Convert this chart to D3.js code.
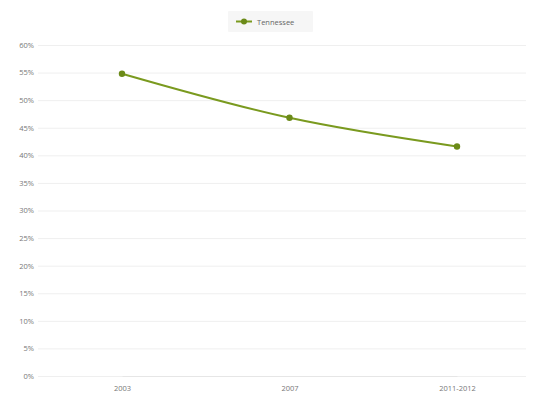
<!DOCTYPE html>
<html><head><meta charset="utf-8">
<script src="https://cdn.jsdelivr.net/npm/d3@7"></script>
<style>body{margin:0;background:#fff;} text{font-family:"Open Sans",sans-serif;}</style>
</head><body>
<svg id="c" width="534" height="394"></svg>
<script>
const categories = ["2003", "2007", "2011-2012"];
const seriesName = "Tennessee";
const values = [54.8, 46.8, 41.6];
const yTicks = [0,5,10,15,20,25,30,35,40,45,50,55,60];

const svg = d3.select("#c");
const color = "#7a9a1f";
const x = d3.scalePoint().domain(categories).range([122, 457]);
const y = d3.scaleLinear().domain([0, 60]).range([376, 45]);

// gridlines
svg.append("g").selectAll("line").data(yTicks).join("line")
  .attr("x1", 38).attr("x2", 526)
  .attr("y1", d => y(d) + 0.5).attr("y2", d => y(d) + 0.5)
  .attr("stroke", "#efefef").attr("stroke-width", 1);

// y axis
const ya = svg.append("g").attr("transform", "translate(34,0)")
  .call(d3.axisLeft(y).tickValues(yTicks).tickFormat(d => d + "%").tickSize(0).tickPadding(0));
ya.select(".domain").remove();
ya.selectAll("text").attr("fill", "#777").attr("font-size", 7.5);

// x axis
const xa = svg.append("g").attr("transform", "translate(0,376)")
  .call(d3.axisBottom(x).tickSize(0).tickPadding(10));
xa.select(".domain").attr("stroke", "#e6e6e6");
xa.selectAll("text").attr("fill", "#777").attr("font-size", 7.5);

// line
const line = d3.line().x((d, i) => x(categories[i])).y(d => y(d)).curve(d3.curveMonotoneX);
svg.append("path").datum(values).attr("d", line)
  .attr("fill", "none").attr("stroke", color).attr("stroke-width", 2);
svg.append("g").selectAll("circle").data(values).join("circle")
  .attr("cx", (d, i) => x(categories[i])).attr("cy", d => y(d)).attr("r", 3.2)
  .attr("fill", "#6b8a18");

// legend
const lg = svg.append("g").attr("transform", "translate(228,11)");
lg.append("rect").attr("width", 85).attr("height", 21).attr("fill", "#f6f6f6").attr("rx", 1);
lg.append("line").attr("x1", 8).attr("x2", 24).attr("y1", 10.5).attr("y2", 10.5)
  .attr("stroke", color).attr("stroke-width", 2);
lg.append("circle").attr("cx", 16).attr("cy", 10.5).attr("r", 3).attr("fill", "#6b8a18");
lg.append("text").attr("x", 29).attr("y", 13.5).attr("font-size", 7.5).attr("fill", "#666").text(seriesName);
</script>
</body></html>
